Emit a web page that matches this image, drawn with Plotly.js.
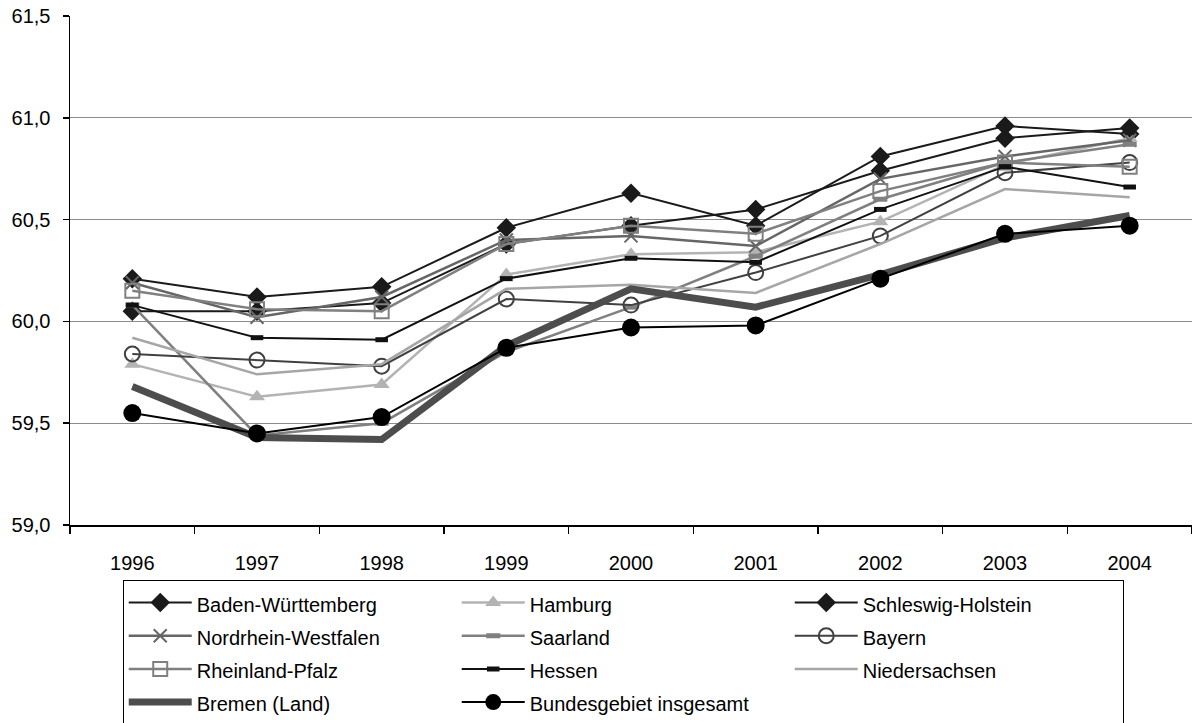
<!DOCTYPE html>
<html>
<head>
<meta charset="utf-8">
<script src="https://cdn.plot.ly/plotly-3.0.1.min.js"></script>
<style>html,body{margin:0;padding:0;background:#fff;overflow:hidden;}#chart{width:1192px;height:740px;}</style>
</head>
<body>
<div id="chart"></div>
<script>
const years = ['1996','1997','1998','1999','2000','2001','2002','2003','2004'];
const yTickVals = [59.0, 59.5, 60.0, 60.5, 61.0, 61.5];
const yTickText = ['59,0','59,5','60,0','60,5','61,0','61,5'];

const badenWuerttemberg   = [60.21, 60.12, 60.17, 60.46, 60.63, 60.47, 60.81, 60.96, 60.92];
const hamburg             = [59.79, 59.63, 59.69, 60.23, 60.33, 60.34, 60.49, 60.77, 60.90];
const schleswigHolstein   = [60.05, 60.05, 60.09, 60.38, 60.47, 60.55, 60.74, 60.90, 60.95];
const nordrheinWestfalen  = [60.19, 60.02, 60.12, 60.40, 60.42, 60.37, 60.70, 60.81, 60.89];
const saarland            = [60.08, 59.44, 59.50, 59.85, 60.07, 60.32, 60.60, 60.78, 60.87];
const bayern              = [59.84, 59.81, 59.78, 60.11, 60.08, 60.24, 60.42, 60.73, 60.78];
const rheinlandPfalz      = [60.15, 60.06, 60.05, 60.38, 60.47, 60.43, 60.64, 60.78, 60.76];
const hessen              = [60.08, 59.92, 59.91, 60.21, 60.31, 60.29, 60.55, 60.76, 60.66];
const niedersachsen       = [59.92, 59.74, 59.79, 60.16, 60.18, 60.14, 60.38, 60.65, 60.61];
const bremen              = [59.68, 59.43, 59.42, 59.88, 60.16, 60.07, 60.23, 60.41, 60.52];
const bundesgebiet        = [59.55, 59.45, 59.53, 59.87, 59.97, 59.98, 60.21, 60.43, 60.47];

function nm(s){ return '<span style="font-size:20px">' + s + '</span>'; }

const traces = [
  {name:'Baden-Württemberg', y:badenWuerttemberg, line:{color:'#1a1a1a',width:2}, marker:{symbol:'diamond',size:15,color:'#1a1a1a'}},
  {name:'Hamburg', y:hamburg, line:{color:'#b3b3b3',width:2.5}, marker:{symbol:'triangle-up',size:14,color:'#b3b3b3'}},
  {name:'Schleswig-Holstein', y:schleswigHolstein, line:{color:'#1a1a1a',width:2}, marker:{symbol:'diamond',size:15,color:'#1a1a1a'}},
  {name:'Nordrhein-Westfalen', y:nordrheinWestfalen, line:{color:'#666666',width:2.5}, marker:{symbol:'x-thin-open',size:13,color:'#666666',line:{color:'#666666',width:2}}},
  {name:'Saarland', y:saarland, line:{color:'#808080',width:2.5}, marker:{symbol:'line-ew-open',size:10,color:'#808080',line:{color:'#808080',width:5}}},
  {name:'Bayern', y:bayern, line:{color:'#404040',width:2}, marker:{symbol:'circle-open',size:15,color:'#404040',line:{color:'#404040',width:2}}},
  {name:'Rheinland-Pfalz', y:rheinlandPfalz, line:{color:'#808080',width:2.5}, marker:{symbol:'square-open',size:14,color:'#808080',line:{color:'#808080',width:2}}},
  {name:'Hessen', y:hessen, line:{color:'#111111',width:2}, marker:{symbol:'line-ew-open',size:9,color:'#111111',line:{color:'#111111',width:5}}},
  {name:'Niedersachsen', y:niedersachsen, line:{color:'#a6a6a6',width:2.5}, mode:'lines'},
  {name:'Bremen (Land)', y:bremen, line:{color:'#4d4d4d',width:7}, mode:'lines'},
  {name:'Bundesgebiet insgesamt', y:bundesgebiet, line:{color:'#000000',width:2}, marker:{symbol:'circle',size:18,color:'#000000'}}
].map(t => Object.assign({type:'scatter', x:years, mode:'lines+markers', cliponaxis:false}, t, {name: nm(t.name)}));

const H = 740;
const layout = {
  width:1192, height:H,
  margin:{l:70, r:0, t:16, b:H-525},
  paper_bgcolor:'#ffffff', plot_bgcolor:'#ffffff',
  font:{family:'"Liberation Sans", Arial, sans-serif', size:20, color:'#000'},
  showlegend:true,
  legend:{
    orientation:'h', x:0.047, xanchor:'left', y:-55/509, yanchor:'top',
    bgcolor:'#ffffff', bordercolor:'#000000', borderwidth:1,
    font:{size:23.2, color:'#000'}, entrywidth:255, entrywidthmode:'pixels',
    itemwidth:63,
    traceorder:'normal', itemclick:false
  },
  xaxis:{
    type:'category', range:[-0.5, 8.5], showgrid:false, zeroline:false,
    showline:true, linecolor:'#000', linewidth:1.5,
    ticks:'outside', tickson:'boundaries', ticklen:7, tickcolor:'#000', tickwidth:1.5,
    ticklabelstandoff:19, tickfont:{size:20}
  },
  yaxis:{
    range:[59, 61.5], tickvals:yTickVals, ticktext:yTickText,
    showgrid:true, gridcolor:'#8c8c8c', gridwidth:1, zeroline:false,
    showline:true, linecolor:'#000', linewidth:1.5,
    ticks:'outside', ticklen:6, tickcolor:'#000', tickwidth:1.5,
    ticklabelstandoff:8, tickfont:{size:20}
  }
};

Plotly.newPlot('chart', traces, layout, {staticPlot:true});
</script>
</body>
</html>
